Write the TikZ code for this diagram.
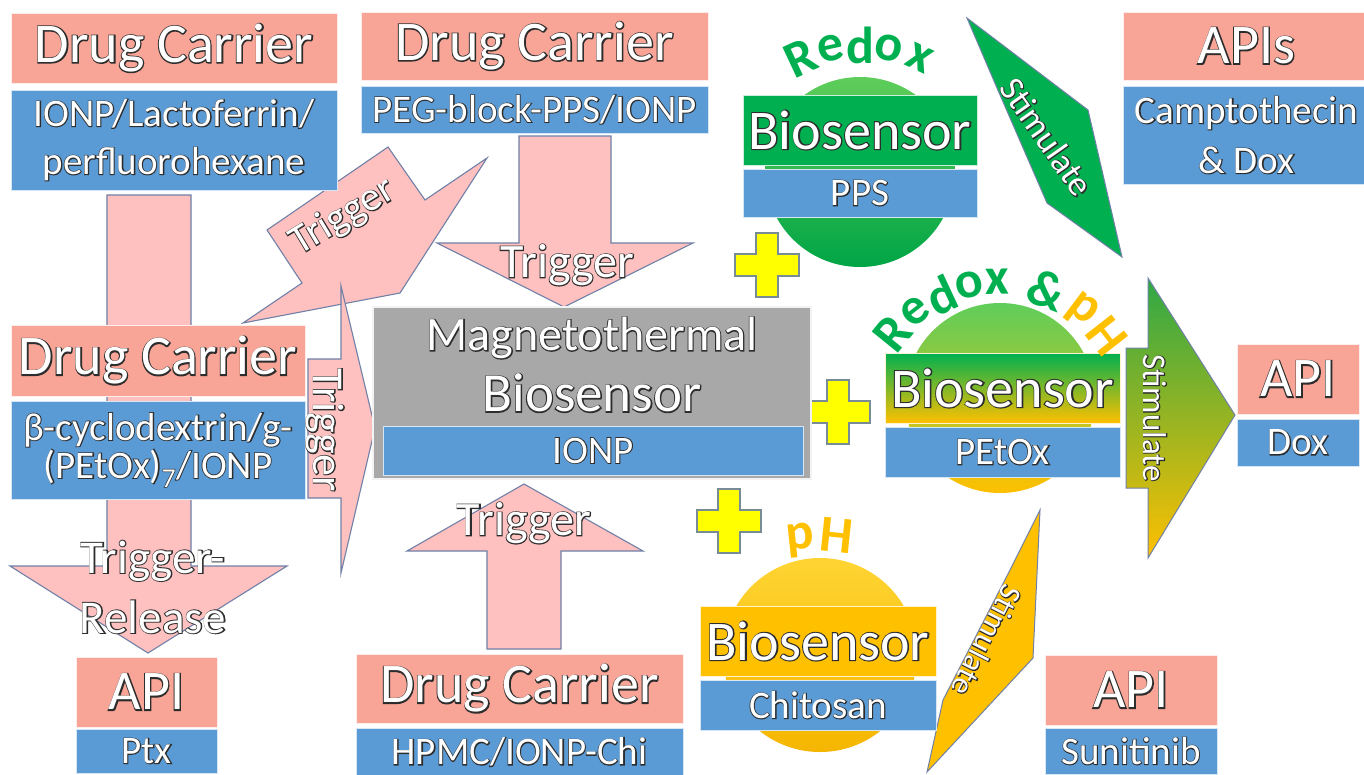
\documentclass[tikz,border=0pt]{standalone}
\usepackage{fontspec}
\setmainfont{Carlito}
\newfontfamily\olfont[FakeBold=4]{Carlito}
\definecolor{hdrpink}{RGB}{248,164,150}
\definecolor{subblue}{RGB}{91,155,213}
\definecolor{arrpink}{RGB}{255,192,192}
\definecolor{arrline}{RGB}{112,128,166}
\definecolor{magray}{RGB}{168,168,168}
\definecolor{sgreen}{RGB}{0,176,80}
\definecolor{sgold}{RGB}{255,192,0}
\definecolor{plusy}{RGB}{255,255,0}
\definecolor{plusline}{RGB}{120,140,150}
\definecolor{outl}{RGB}{45,45,45}
\definecolor{gballa}{RGB}{95,205,90}
\definecolor{gballb}{RGB}{0,165,70}
\definecolor{mixg}{RGB}{160,195,40}
\definecolor{yballa}{RGB}{255,212,50}
\definecolor{yballb}{RGB}{245,182,0}
\definecolor{stga}{RGB}{45,168,70}
\definecolor{stgb}{RGB}{215,190,15}
\newcommand\ot[1]{\leavevmode\rlap{\olfont\color{outl}#1}#1}
\newcommand\oh[1]{\raisebox{-3pt}{\ot{#1}}}
\newcommand\fsz[2]{\fontsize{#1}{#2}\selectfont}
\newcommand\plusat[2]{\filldraw[plusst] (#1,#2) ++(-11,-32) -- ++(22,0) -- ++(0,21) -- ++(21,0) -- ++(0,22) -- ++(-21,0) -- ++(0,21) -- ++(-22,0) -- ++(0,-21) -- ++(-21,0) -- ++(0,-22) -- ++(21,0) -- cycle;}
\begin{document}
\begin{tikzpicture}[x=1pt,y=-1pt,
  hdr/.style={fill=hdrpink, draw=white!80!hdrpink, line width=0.6pt, inner sep=0pt, text=white, font=\fsz{56}{62}},
  sub/.style={fill=subblue, draw=white!75!subblue, line width=0.6pt, inner sep=0pt, text=white, align=center, font=\fsz{39}{46}},
  blk/.style={fill=arrpink, draw=arrline, line width=1.1pt, line join=miter},
  stim/.style={draw=arrline, line width=1pt, line join=miter},
  lbl/.style={inner sep=0pt, text=white, align=center},
  plusst/.style={fill=plusy, draw=plusline, line width=1.2pt},
  curv/.style={inner sep=0pt, font=\bfseries\fsz{52}{52}}]
\useasboundingbox (0,0) rectangle (1364,774);
\fill[white] (0,0) rectangle (1364,774);

% pink block arrows
\draw[blk] (107,195) -- (191,195) -- (191,566) -- (287,566) -- (148,653) -- (10,566) -- (107,566) -- cycle;
\draw[blk] (519,136) -- (611,136) -- (611,243) -- (693,243) -- (564,307) -- (437,243) -- (519,243) -- cycle;
\draw[blk] (487,649) -- (561,649) -- (561,551) -- (643,551) -- (524,484) -- (407,551) -- (487,551) -- cycle;
\draw[blk] (267,230) -- (388,147) -- (425,200) -- (487,158) -- (400,293) -- (243,323) -- (302,283) -- cycle;
\draw[blk] (308,359) -- (341,359) -- (341,286) -- (375,428) -- (341,573) -- (341,498) -- (308,498) -- cycle;

% stimulate arrows
\shadedraw[stim, top color=stga, middle color=stgb, bottom color=sgold] (1126,348) -- (1148,348) -- (1148,278) -- (1235,415) -- (1148,558) -- (1148,488) -- (1126,488) -- cycle;
\filldraw[stim, fill=sgreen] (967,18) -- (1088,110) -- (1122,257) -- (1047,203) -- (997,88) -- cycle;
\filldraw[stim, fill=sgold] (1040,510) -- (1033,658) -- (927,772) -- (943,700) -- (1010,570) -- cycle;

% balls
\shade[top color=gballa, bottom color=gballb] (860,172) circle[radius=95];
\shade[top color=gballa, middle color=mixg, bottom color=sgold] (1000,398) circle[radius=95];
\shade[top color=yballa, bottom color=yballb] (820,655) circle[radius=97];

% plus signs
\plusat{767}{265}
\plusat{838}{412}
\plusat{729}{521}

% magnetothermal biosensor
\node[fill=magray, draw=white!85!magray, line width=1.5pt, minimum width=438pt, minimum height=172pt, inner sep=0pt] (mag) at (592,393) {};
\node[sub, minimum width=420pt, minimum height=49pt] (magsub) at (593,450.5) {\ot{IONP}};
\node[lbl, font=\fsz{48}{48}] (magt1) at (592,338) {\ot{Magnetothermal}};
\node[lbl, font=\fsz{55}{55}] (magt2) at (592,393) {\ot{Biosensor}};

% drug carriers
\node[hdr, minimum width=326pt, minimum height=70pt] (dc1h) at (174,48) {\oh{Drug Carrier}};
\node[sub, minimum width=326pt, minimum height=100pt, font=\fsz{39}{48}] (dc1s) at (174,140) {\ot{IONP/Lactoferrin/}\\\ot{perfluorohexane}};
\node[hdr, minimum width=347pt, minimum height=68pt] (dc2h) at (534.5,46) {\oh{Drug Carrier}};
\node[sub, minimum width=347pt, minimum height=47pt] (dc2s) at (534.5,109.5) {\ot{PEG-block-PPS/IONP}};
\node[hdr, minimum width=294pt, minimum height=71pt] (dc3h) at (158,360.5) {\oh{Drug Carrier}};
\node[sub, minimum width=294pt, minimum height=98pt, font=\fsz{39}{40}] (dc3s) at (158,450) {\raisebox{-5pt}{\ot{β-cyclodextrin/g-}}\\\raisebox{-3pt}{\ot{(PEtOx)\textsubscript{7}/IONP}}};
\node[hdr, minimum width=327pt, minimum height=69pt] (dc4h) at (519.5,688.5) {\oh{Drug Carrier}};
\node[sub, minimum width=327pt, minimum height=48pt] (dc4s) at (519.5,752) {\ot{HPMC/IONP-Chi}};

% APIs
\node[hdr, minimum width=141pt, minimum height=70pt] (a1h) at (146.5,692) {\oh{API}};
\node[sub, minimum width=141pt, minimum height=44pt] (a1s) at (146.5,751) {\ot{Ptx}};
\node[hdr, minimum width=247pt, minimum height=68pt] (a2h) at (1246.5,46) {\oh{APIs}};
\node[sub, minimum width=247pt, minimum height=98pt, font=\fsz{39}{50}] (a2s) at (1246.5,135) {\ot{Camptothecin}\\\ot{\& Dox}};
\node[hdr, minimum width=122pt, minimum height=70pt] (a3h) at (1298,379) {\oh{API}};
\node[sub, minimum width=122pt, minimum height=47pt] (a3s) at (1298,442.5) {\ot{Dox}};
\node[hdr, minimum width=172pt, minimum height=70pt] (a4h) at (1131,690) {\oh{API}};
\node[sub, minimum width=172pt, minimum height=46pt] (a4s) at (1131,751) {\ot{Sunitinib}};

% biosensors
\node[hdr, fill=sgreen, draw=white!80!sgreen, minimum width=234pt, minimum height=70pt] (b1h) at (860,130) {\oh{Biosensor}};
\node[sub, minimum width=234pt, minimum height=48pt] (b1s) at (860,193) {\ot{PPS}};
\node[hdr, top color=sgreen, middle color=sgold, bottom color=sgold, draw=white!80!sgold, minimum width=235pt, minimum height=70pt] (b2h) at (1002.5,388) {\oh{Biosensor}};
\node[sub, minimum width=235pt, minimum height=50pt] (b2s) at (1002.5,452) {\ot{PEtOx}};
\node[hdr, fill=sgold, draw=white!80!sgold, minimum width=236pt, minimum height=70pt] (b3h) at (818,641) {\oh{Biosensor}};
\node[sub, minimum width=236pt, minimum height=50pt] (b3s) at (818,705) {\ot{Chitosan}};

% arrow labels
\node[lbl, font=\fsz{47}{60}] (trel) at (153,587) {\ot{Trigger-}\\\ot{Release}};
\node[lbl, font=\fsz{48}{48}] (tdown) at (567,265) {\ot{Trigger}};
\node[lbl, font=\fsz{48}{48}] (tup) at (524,523) {\ot{Trigger}};
\node[lbl, font=\fsz{41}{41}, rotate=31] (tdiag) at (343,217) {\ot{Trigger}};
\node[lbl, font=\fsz{44}{44}, rotate=-90] (tvert) at (325,430) {\ot{Trigger}};
\node[lbl, font=\fsz{33}{33}, rotate=-90] (sbig) at (1155,418) {\ot{Stimulate}};
\node[lbl, font=\fsz{35}{35}, rotate=-55] (sgr) at (1047,137) {\ot{Stimulate}};
\node[lbl, font=\fsz{31}{31}, rotate=-117] (syl) at (987,641) {\ot{Stimulate}};

% curved labels
\foreach \ch/\ang [count=\i] in {R/115,e/102,d/90,o/78,x/65}
  \node[curv, text=sgreen, rotate=\ang-90] (rdx\i) at ({860+140*cos(\ang)},{185-140*sin(\ang)}) {\ch};
\foreach \ch/\ang [count=\i] in {R/141,e/128,d/115,o/103,x/91,\&/70}
  \node[curv, text=sgreen, rotate=\ang-90] (rph\i) at ({1000+138*cos(\ang)},{420-138*sin(\ang)}) {\ch};
\foreach \ch/\ang [count=\i] in {p/53,H/38}
  \node[curv, text=sgold, rotate=\ang-90] (phb\i) at ({1000+136*cos(\ang)},{420-136*sin(\ang)}) {\ch};
\node[curv, text=sgold, rotate=6] (ph1) at (800,540) {p};
\node[curv, text=sgold, rotate=-6] (ph2) at (837,535) {H};
\end{tikzpicture}
\end{document}
